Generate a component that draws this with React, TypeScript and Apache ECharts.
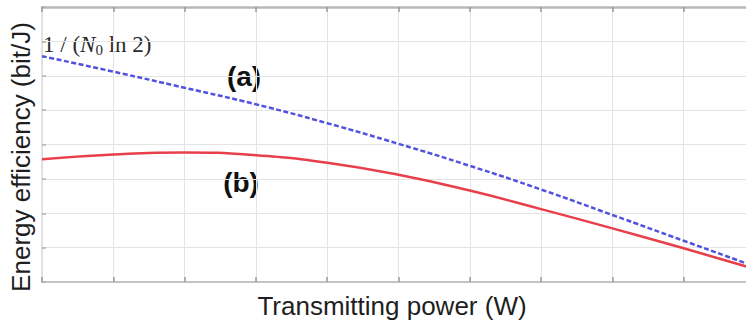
import React, { useEffect, useRef } from "react";
import * as echarts from "echarts";

const powerX = [0, 1, 2, 3, 4, 5, 6, 7, 8, 9, 10];
const upperBoundA = [6.57, 6.12, 5.65, 5.17, 4.62, 4.02, 3.38, 2.69, 1.95, 1.2, 0.45];
const efficiencyB = [3.57, 3.71, 3.77, 3.69, 3.47, 3.12, 2.66, 2.12, 1.56, 0.98, 0.38];

const xLabel = "Transmitting power (W)";
const yLabel = "Energy efficiency (bit/J)";

const SANS = '"Liberation Sans", Arial, sans-serif';
const SERIF = '"Liberation Serif", "Times New Roman", serif';

export default function App() {
  const ref = useRef<HTMLDivElement>(null);
  useEffect(() => {
    if (!ref.current) return;
    const chart = echarts.init(ref.current, null, { renderer: "svg" });
    const gridLine = { show: true, lineStyle: { color: "#e4e4e4", width: 1 } };
    chart.setOption({
      animation: false,
      backgroundColor: "#ffffff",
      grid: { left: 42, top: 7, width: 713, height: 275, containLabel: false },
      xAxis: [
        {
          type: "value",
          min: 0,
          max: 10,
          interval: 1,
          position: "bottom",
          axisLine: { show: true, lineStyle: { color: "#c4c4c4", width: 2 } },
          axisTick: { show: true, inside: true, length: 5, lineStyle: { color: "#9a9a9a", width: 1.5 } },
          axisLabel: { show: false },
          splitLine: gridLine,
        },
        {
          type: "value",
          min: 0,
          max: 10,
          interval: 1,
          position: "top",
          axisLine: { show: true, lineStyle: { color: "#b8b8b8", width: 2.5 } },
          axisTick: { show: true, inside: true, length: 5, lineStyle: { color: "#9a9a9a", width: 1.5 } },
          axisLabel: { show: false },
          splitLine: { show: false },
        },
      ],
      yAxis: {
        type: "value",
        min: 0,
        max: 8,
        interval: 1,
        axisLine: { show: true, lineStyle: { color: "#dcdcdc", width: 1.5 } },
        axisTick: { show: true, inside: true, length: 4, lineStyle: { color: "#b0b0b0", width: 1.5 } },
        axisLabel: { show: false },
        splitLine: gridLine,
      },
      series: [
        {
          type: "line",
          data: powerX.map((x, i) => [x, upperBoundA[i]]),
          smooth: true,
          showSymbol: false,
          lineStyle: { color: "#5252e0", width: 2.5, type: [5, 2.5] },
        },
        {
          type: "line",
          data: powerX.map((x, i) => [x, efficiencyB[i]]),
          smooth: true,
          showSymbol: false,
          lineStyle: { color: "#e8404a", width: 2.5 },
        },
      ],
      graphic: [
        {
          type: "text",
          x: 21,
          y: 157,
          rotation: Math.PI / 2,
          style: {
            text: yLabel,
            fontFamily: SANS,
            fontSize: 26,
            fill: "#1e1e1e",
            stroke: "none",
            lineWidth: 0,
            align: "center",
            verticalAlign: "middle",
          },
        },
        {
          type: "text",
          x: 392,
          y: 306,
          style: {
            text: xLabel,
            fontFamily: SANS,
            fontSize: 26,
            fill: "#1e1e1e",
            stroke: "none",
            lineWidth: 0,
            align: "center",
            verticalAlign: "middle",
          },
        },
        {
          type: "text",
          x: 244,
          y: 76,
          style: {
            text: "(a)",
            fontFamily: SANS,
            fontSize: 28,
            fontWeight: "bold",
            fill: "#111111",
            stroke: "none",
            lineWidth: 0,
            align: "center",
            verticalAlign: "middle",
          },
        },
        {
          type: "text",
          x: 241,
          y: 182,
          style: {
            text: "(b)",
            fontFamily: SANS,
            fontSize: 28,
            fontWeight: "bold",
            fill: "#111111",
            stroke: "none",
            lineWidth: 0,
            align: "center",
            verticalAlign: "middle",
          },
        },
        {
          type: "text",
          x: 43,
          y: 44,
          style: {
            text: "{n|1 / (}{i|N}{s|0}{n| ln 2)}",
            align: "left",
            verticalAlign: "middle",
            stroke: "none",
            lineWidth: 0,
            rich: {
              n: { fontFamily: SERIF, fontSize: 23, fill: "#2a2a2a" },
              i: { fontFamily: SERIF, fontSize: 23, fontStyle: "italic", fill: "#2a2a2a" },
              s: { fontFamily: SERIF, fontSize: 15, fill: "#2a2a2a", padding: [11, 0, 0, 0] },
            },
          },
        },
      ],
    });
    return () => chart.dispose();
  }, []);
  return (
    <div style={{ position: "absolute", left: 0, top: 0, width: 746, height: 321, overflow: "hidden", background: "#fff" }}>
      <div ref={ref} style={{ width: 760, height: 321 }} />
    </div>
  );
}
